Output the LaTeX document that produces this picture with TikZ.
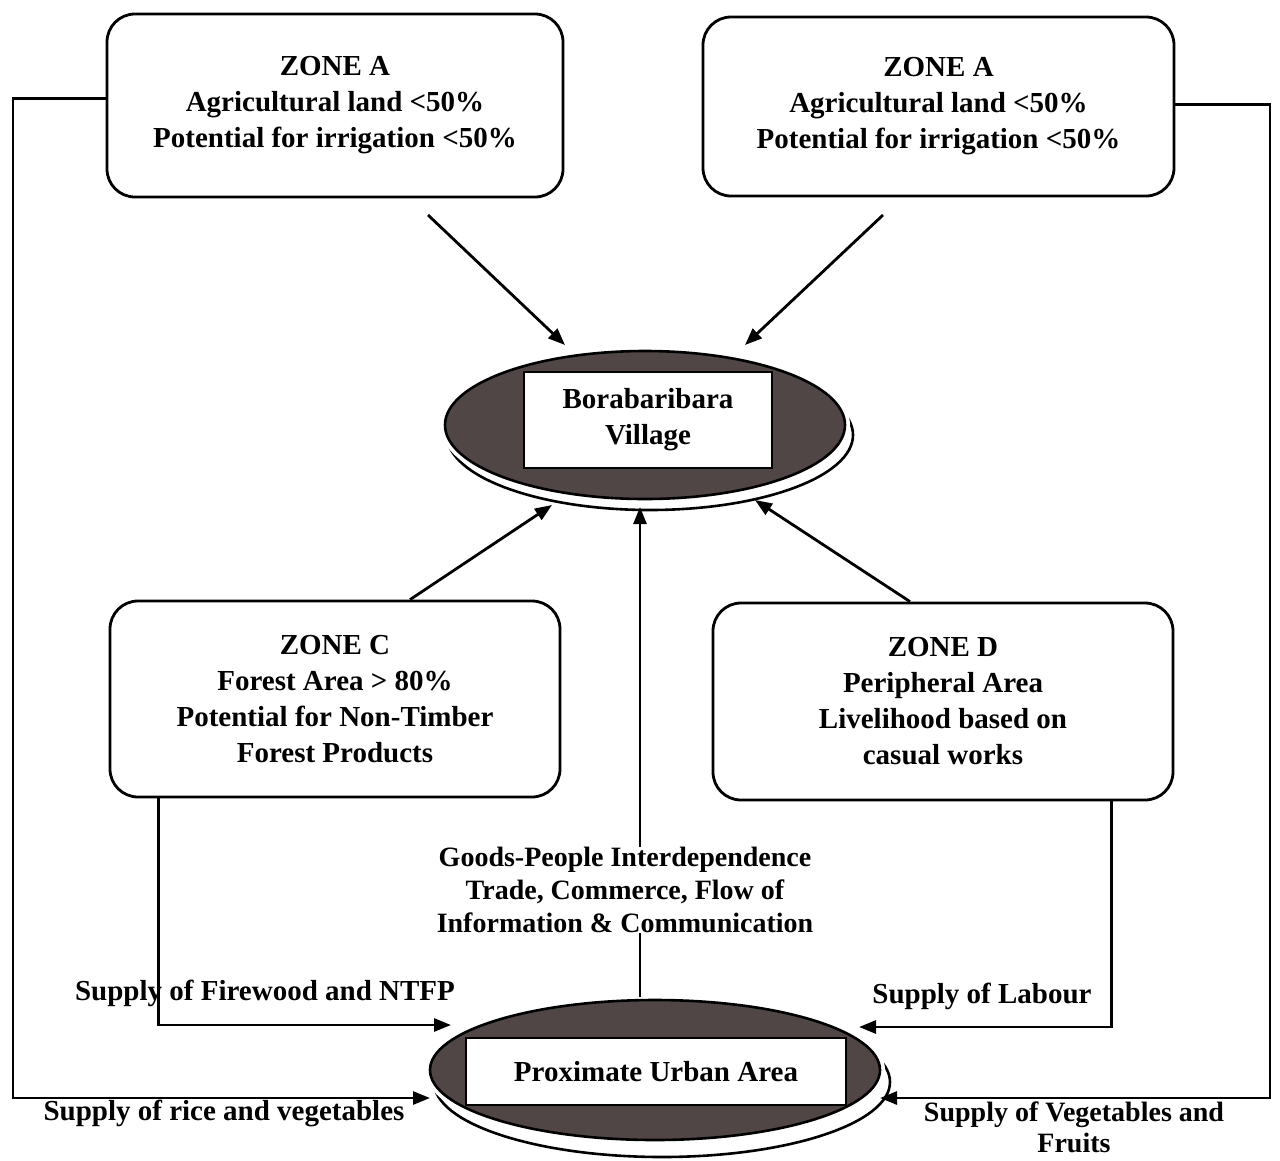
\documentclass[tikz,border=0pt]{standalone}
\usepackage{fontspec}
\setmainfont{Liberation Serif}
\usetikzlibrary{arrows.meta,calc}
\definecolor{ellc}{RGB}{80,70,70}
\begin{document}
\begin{tikzpicture}[x=1pt,y=-1pt,
  txt/.style={font=\fontsize{29}{36}\selectfont\bfseries, align=center, inner sep=0pt},
  zone/.style={txt, draw=black, line width=2.8pt, rounded corners=28pt},
  inbox/.style={txt, draw=black, line width=2.8pt, fill=white},
  ln/.style={line width=2.8pt, draw=black},
  arr/.style={ln, -{Triangle[length=17pt,width=13pt]}},
  shad/.style={line width=2.6pt, draw=black, fill=white},
  gap/.style={line width=10pt, draw=white},
  dark/.style={line width=2.6pt, draw=black, fill=ellc},
]
\useasboundingbox (0,0) rectangle (1280,1160);

% zone boxes
\node[zone, minimum width=456, minimum height=183] (zal) at (335,105.5)
  {ZONE A\\Agricultural land <50\%\\Potential for irrigation <50\%};
\node[zone, minimum width=471, minimum height=179] (zar) at (938.5,106.5)
  {ZONE A\\Agricultural land <50\%\\Potential for irrigation <50\%};
\node[zone, minimum width=450, minimum height=196] (zc) at (335,699)
  {ZONE C\\Forest Area > 80\%\\Potential for Non-Timber\\Forest Products};
\node[zone, minimum width=460, minimum height=197] (zd) at (943,701.5)
  {ZONE D\\Peripheral Area\\Livelihood based on\\casual works};

% village ellipse
\draw[shad] (650,435) ellipse [x radius=203, y radius=75];
\draw[gap] (645,425) ellipse [x radius=200, y radius=74];
\draw[dark] (645,425) ellipse [x radius=200, y radius=74];
\node[inbox, minimum width=248, minimum height=96] (vil) at (648,420) {Borabaribara\\Village};

% urban ellipse
\draw[shad] (662,1082) ellipse [x radius=228, y radius=75];
\draw[gap] (655,1070) ellipse [x radius=225, y radius=70];
\draw[dark] (655,1070) ellipse [x radius=225, y radius=70];
\node[inbox, minimum width=380, minimum height=67] (urb) at (656,1071.5) {Proximate Urban Area};

% centre text
\node[txt, font=\fontsize{28}{33}\selectfont\bfseries] (goods) at (625,890)
  {Goods-People Interdependence\\Trade, Commerce, Flow of\\Information \& Communication};

% coordinates
\coordinate (a1s) at (428,215);   \coordinate (a1e) at (565,345);
\coordinate (a2s) at (883,215);   \coordinate (a2e) at (745,345);
\coordinate (cve) at (552,505);   \coordinate (dve) at (755,500);
\coordinate (gve) at (640,507);
\coordinate (urbL) at (430,1098); \coordinate (urbR) at (880,1098);
\coordinate (urbCL) at (451,1025); \coordinate (urbDR) at (859,1027);
\coordinate (urbT) at (640,997);

% arrows to village
\draw[arr] (a1s) -- (a1e);
\draw[arr] (a2s) -- (a2e);
\draw[arr] ($(zc.north)+(75,0)$) -- (cve);
\draw[arr] ($(zd.north)+(-33,0)$) -- (dve);
\draw[arr] (goods.north -| gve) -- (gve);
\draw[ln] (urbT) -- (goods.south -| urbT);

% outer loops
\draw[arr] ($(zal.west)+(0,-7)$) -| (13,1098) -- (urbL);
\draw[arr] ($(zar.east)+(0,-2)$) -| (1270,1098) -- (urbR);
\draw[arr] ($(zc.south west)+(50,0)$) |- (urbCL);
\draw[arr] ($(zd.south east)+(-63,0)$) |- (urbDR);

% labels
\node[txt] (l1) at (265,993) {Supply of Firewood and NTFP};
\node[txt] (l2) at (982,996) {Supply of Labour};
\node[txt] (l3) at (224,1113) {Supply of rice and vegetables};
\node[txt, font=\fontsize{28}{31}\selectfont\bfseries] (l4) at (1074,1127) {Supply of Vegetables and\\Fruits};
\end{tikzpicture}
\end{document}
